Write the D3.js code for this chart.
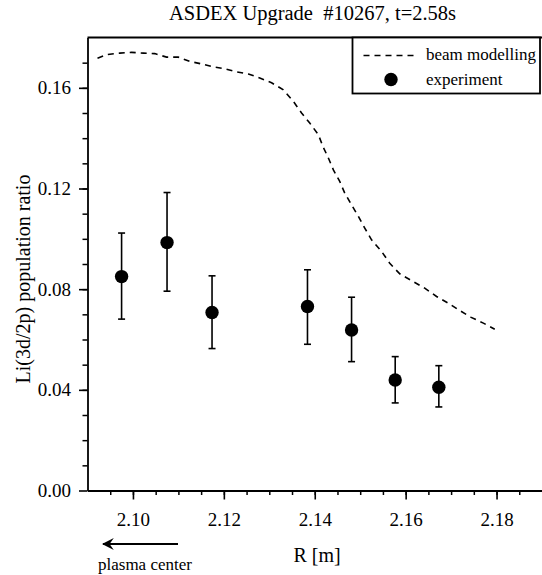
<!DOCTYPE html>
<html>
<head>
<title>Li population ratio</title>
<style>
  body { margin: 0; background: #fff; }
  svg text { font-family: "Liberation Serif", "Times New Roman", serif; fill: #000; white-space: pre; }
</style>
</head>
<body>

<!-- Create a div where the graph will take place -->
<div id="my_dataviz"></div>

<script src="https://d3js.org/d3.v7.min.js"></script>
<script>

    // beam modelling curve (dashed)
    var modelR = [2.0922, 2.0942, 2.0971, 2.0997, 2.1023, 2.1048, 2.1074, 2.1100, 2.1125, 2.1151,
                  2.1177, 2.1202, 2.1224, 2.1254, 2.1279, 2.1305, 2.1331, 2.1353, 2.1371, 2.1389,
                  2.1408, 2.1418, 2.1430, 2.1441, 2.1455, 2.1466, 2.1481, 2.1496, 2.1510, 2.1525,
                  2.1547, 2.1565, 2.1587, 2.1617, 2.1642, 2.1668, 2.1694, 2.1719, 2.1743, 2.1771, 2.1796];
    var modelRatio = [0.1718, 0.1732, 0.1738, 0.1741, 0.1738, 0.1736, 0.1722, 0.1722, 0.1705, 0.1695,
                      0.1683, 0.1676, 0.1665, 0.1655, 0.1639, 0.1620, 0.1592, 0.1546, 0.1500, 0.1460,
                      0.1414, 0.1367, 0.1321, 0.1274, 0.1228, 0.1182, 0.1135, 0.1089, 0.1043, 0.0996,
                      0.0950, 0.0903, 0.0861, 0.0830, 0.0804, 0.0771, 0.0744, 0.0715, 0.0689, 0.0665, 0.0641];

    // experiment points with error bars
    var expR = [2.0975, 2.1075, 2.1174, 2.1384, 2.1481, 2.1577, 2.1673];
    var expRatio = [0.0850, 0.0985, 0.0707, 0.0731, 0.0638, 0.0439, 0.0410];
    var expHigh = [0.1023, 0.1184, 0.0853, 0.0877, 0.0768, 0.0532, 0.0496];
    var expLow = [0.0681, 0.0792, 0.0564, 0.0581, 0.0512, 0.0348, 0.0332];

    // axis ticks
    var xMajor = [2.10, 2.12, 2.14, 2.16, 2.18];
    var yMajor = [0.00, 0.04, 0.08, 0.12, 0.16];

    var titleText = "ASDEX Upgrade  #10267, t=2.58s";
    var serif = '"Liberation Serif", "Times New Roman", serif';

    // set the dimensions and margins of the graph
    var W = 542, H = 575;
    var margin = {top: 37.5, right: 0, bottom: 84.5, left: 87.5},
        width = W - margin.left - margin.right,
        height = H - margin.top - margin.bottom;

    var svg = d3.select("#my_dataviz")
      .append("svg")
        .attr("width", W)
        .attr("height", H);

    var g = svg.append("g")
        .attr("transform", "translate(" + margin.left + "," + margin.top + ")");

    var x = d3.scaleLinear().domain([2.09, 2.19]).range([0, width]);
    var y = d3.scaleLinear().domain([0, 0.18]).range([height, 0]);

    // minor ticks first, then major ticks with labels
    var xMinor = d3.range(2.095, 2.19, 0.005);
    var yMinor = d3.range(0.01, 0.18, 0.01);

    g.append("g")
      .attr("transform", "translate(0," + height + ")")
      .call(d3.axisBottom(x).tickValues(xMinor).tickSize(4.5).tickFormat(""))
      .call(function(s) { s.select(".domain").remove(); })
      .selectAll("line").attr("stroke-width", 1.5);

    g.append("g")
      .call(d3.axisLeft(y).tickValues(yMinor).tickSize(5).tickFormat(""))
      .call(function(s) { s.select(".domain").remove(); })
      .selectAll("line").attr("stroke-width", 1.5);

    var xAxis = g.append("g")
      .attr("transform", "translate(0," + height + ")")
      .call(d3.axisBottom(x).tickValues(xMajor).tickSize(9).tickSizeOuter(0).tickPadding(13)
        .tickFormat(d3.format(".2f")));
    xAxis.attr("font-family", null).attr("font-size", null);
    xAxis.select(".domain").attr("stroke-width", 1.8);
    xAxis.selectAll("line").attr("stroke-width", 1.6);
    xAxis.selectAll("text").style("font-size", "19px").style("font-family", serif);

    var yAxis = g.append("g")
      .call(d3.axisLeft(y).tickValues(yMajor).tickSize(8.5).tickSizeOuter(0).tickPadding(8)
        .tickFormat(d3.format(".2f")));
    yAxis.attr("font-family", null).attr("font-size", null);
    yAxis.select(".domain").attr("stroke-width", 1.8);
    yAxis.selectAll("line").attr("stroke-width", 1.6);
    yAxis.selectAll("text").style("font-size", "19px").style("font-family", serif);

    // top frame line
    g.append("line")
      .attr("x1", 0).attr("x2", width)
      .attr("y1", 0).attr("y2", 0)
      .attr("stroke", "#000").attr("stroke-width", 1.8);

    // dashed model line
    var model = modelR.map(function(r, i) { return {r: r, v: modelRatio[i]}; });
    g.append("path")
      .datum(model)
      .attr("fill", "none")
      .attr("stroke", "#000")
      .attr("stroke-width", 1.6)
      .attr("stroke-dasharray", "6,5")
      .attr("d", d3.line()
        .x(function(d) { return x(d.r); })
        .y(function(d) { return y(d.v); }));

    // experiment with error bars
    var exp = expR.map(function(r, i) {
      return {r: r, v: expRatio[i], hi: expHigh[i], lo: expLow[i]};
    });
    var pts = g.selectAll(".pt").data(exp).enter().append("g").attr("class", "pt");
    pts.append("line")
      .attr("x1", function(d) { return x(d.r); }).attr("x2", function(d) { return x(d.r); })
      .attr("y1", function(d) { return y(d.hi); }).attr("y2", function(d) { return y(d.lo); })
      .attr("stroke", "#000").attr("stroke-width", 1.6);
    pts.selectAll(".cap")
      .data(function(d) { return [d.hi, d.lo].map(function(v) { return {r: d.r, v: v}; }); })
      .enter().append("line")
      .attr("x1", function(d) { return x(d.r) - 3.5; }).attr("x2", function(d) { return x(d.r) + 3.5; })
      .attr("y1", function(d) { return y(d.v); }).attr("y2", function(d) { return y(d.v); })
      .attr("stroke", "#000").attr("stroke-width", 1.6);
    pts.append("circle")
      .attr("cx", function(d) { return x(d.r); })
      .attr("cy", function(d) { return y(d.v); })
      .attr("r", 6.7)
      .attr("fill", "#000");

    // legend
    var lg = svg.append("g").attr("transform", "translate(352.5,37.5)");
    lg.append("rect")
      .attr("width", 187.5).attr("height", 56)
      .attr("fill", "#fff").attr("stroke", "#000").attr("stroke-width", 1.8);
    lg.append("line")
      .attr("x1", 11).attr("x2", 63).attr("y1", 18).attr("y2", 18)
      .attr("stroke", "#000").attr("stroke-width", 1.6).attr("stroke-dasharray", "6,5");
    lg.append("text").attr("x", 73.5).attr("y", 22.5).style("font-size", "17px").text("beam modelling");
    lg.append("circle").attr("cx", 38.5).attr("cy", 42).attr("r", 6.7).attr("fill", "#000");
    lg.append("text").attr("x", 73.5).attr("y", 47).style("font-size", "17px").text("experiment");

    // title and axis labels
    svg.append("text")
      .attr("x", 312.5).attr("y", 20)
      .attr("text-anchor", "middle").style("font-size", "20.5px")
      .text(titleText);

    svg.append("text")
      .attr("transform", "translate(30,279) rotate(-90)")
      .attr("text-anchor", "middle").style("font-size", "20px")
      .text("Li(3d/2p) population ratio");

    svg.append("text")
      .attr("x", 317).attr("y", 562)
      .attr("text-anchor", "middle").style("font-size", "20px")
      .text("R [m]");

    svg.append("text")
      .attr("x", 98).attr("y", 570)
      .style("font-size", "17px")
      .text("plasma center");

    // arrow pointing to plasma center
    svg.append("defs").append("marker")
      .attr("id", "arr").attr("viewBox", "0 0 10 10")
      .attr("refX", 9).attr("refY", 5)
      .attr("markerWidth", 6).attr("markerHeight", 6)
      .attr("orient", "auto")
      .append("path").attr("d", "M10,5 L0,0 L3.5,5 L0,10 Z").attr("fill", "#000");
    svg.append("line")
      .attr("x1", 178).attr("x2", 103).attr("y1", 544).attr("y2", 544)
      .attr("stroke", "#000").attr("stroke-width", 2)
      .attr("marker-end", "url(#arr)");

</script>

</body>
</html>
